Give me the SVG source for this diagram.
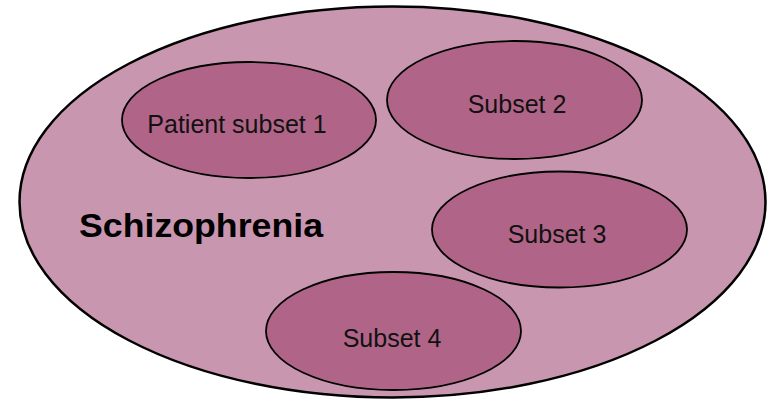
<svg xmlns="http://www.w3.org/2000/svg" width="769" height="399" viewBox="0 0 769 399">
  <style>
    .outer { fill: #C996B0; stroke: #000; stroke-width: 2.5; }
    .subset { fill: #B06588; stroke: #000; stroke-width: 1.8; }
    .label { font-family: "Liberation Sans", Arial, sans-serif; font-size: 25px; fill: #111; text-anchor: middle; }
    .title { font-family: "Liberation Sans", Arial, sans-serif; font-size: 34px; font-weight: bold; fill: #000; }
  </style>
  <rect width="769" height="399" fill="#fff"/>
  <g id="schizophrenia">
    <ellipse class="outer" cx="392.5" cy="202" rx="373" ry="195.5"/>
    <text class="title" x="79" y="237" textLength="244" lengthAdjust="spacingAndGlyphs">Schizophrenia</text>
  </g>
  <g id="subset1">
    <ellipse class="subset" cx="249" cy="120" rx="127" ry="58"/>
    <text class="label" x="237" y="133">Patient subset 1</text>
  </g>
  <g id="subset2">
    <ellipse class="subset" cx="514.5" cy="100" rx="127.5" ry="59"/>
    <text class="label" x="517" y="113">Subset 2</text>
  </g>
  <g id="subset3">
    <ellipse class="subset" cx="559.5" cy="229.5" rx="127.5" ry="58"/>
    <text class="label" x="557" y="243">Subset 3</text>
  </g>
  <g id="subset4">
    <ellipse class="subset" cx="393.5" cy="331" rx="127.5" ry="59"/>
    <text class="label" x="392" y="347">Subset 4</text>
  </g>
  <g id="connectors"/>
</svg>
